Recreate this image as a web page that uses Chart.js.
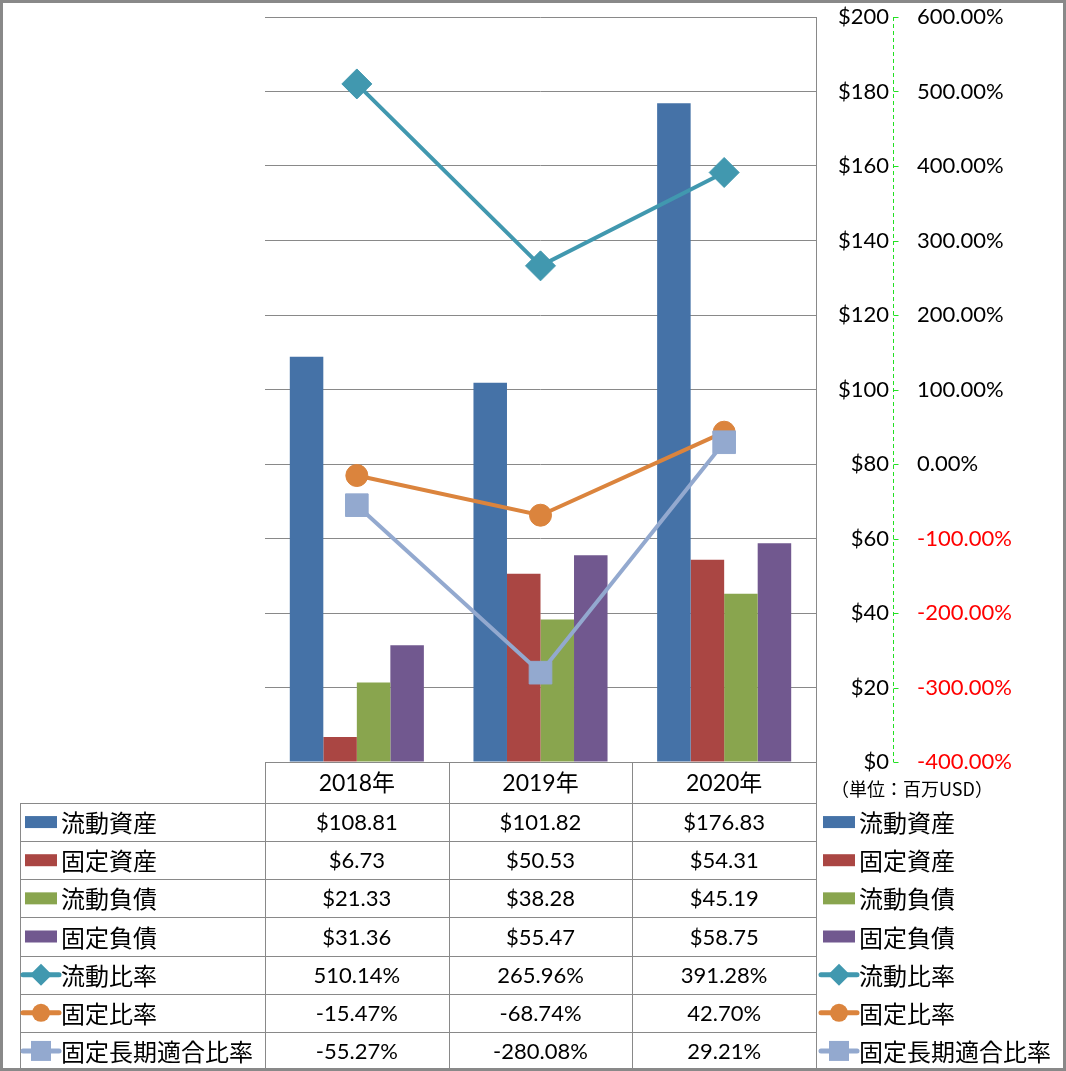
<!DOCTYPE html>
<html>
<head>
<meta charset="utf-8">
<script src="https://cdn.jsdelivr.net/npm/chart.js@4.4.1/dist/chart.umd.min.js"></script>
<style>
  body { margin: 0; background: #fff; }
  canvas { display: block; }
</style>
</head>
<body>
<canvas id="bar-chart" width="1066" height="1071"></canvas>
<script>
// data (百万USD / %)
const kategori = ['2018年', '2019年', '2020年'];
const ryudoShisan = [108.81, 101.82, 176.83];
const koteiShisan = [6.73, 50.53, 54.31];
const ryudoFusai = [21.33, 38.28, 45.19];
const koteiFusai = [31.36, 55.47, 58.75];
const ryudoHiritsu = [510.14, 265.96, 391.28];
const koteiHiritsu = [-15.47, -68.74, 42.70];
const koteiChokiHiritsu = [-55.27, -280.08, 29.21];
const dollarTicks = { min: 0, max: 200, step: 20 };
const persenTicks = { min: -400, max: 600, step: 100 };

const LATIN = "Lato, 'Noto Sans CJK JP', sans-serif";
const CJK = "'Noto Sans CJK JP', sans-serif";
const GRIS = '#898989';
const HIJAU = '#22e022';

const seri = [
    { label: '流動資産', type: 'bar', data: ryudoShisan, color: '#4572A7' },
    { label: '固定資産', type: 'bar', data: koteiShisan, color: '#AA4643' },
    { label: '流動負債', type: 'bar', data: ryudoFusai, color: '#89A54E' },
    { label: '固定負債', type: 'bar', data: koteiFusai, color: '#71588F' },
    { label: '流動比率', type: 'line', data: ryudoHiritsu, color: '#4198AF', point: 'rectRot', radius: 15, order: 3 },
    { label: '固定比率', type: 'line', data: koteiHiritsu, color: '#DB843D', point: 'circle', radius: 11, order: 2 },
    { label: '固定長期適合比率', type: 'line', data: koteiChokiHiritsu, color: '#93A9CF', point: 'rect', radius: 16, order: 1 }
];

const fmtDollar = v => '$' + v.toFixed(2);
const fmtPersen = v => v.toFixed(2) + '%';

function gambarKunci(ctx, s, x1, x2, y) {
    if (s.type === 'bar') {
        ctx.fillStyle = s.color;
        ctx.fillRect(x1 + 2, y - 6, x2 - x1 - 4, 12);
        return;
    }
    ctx.strokeStyle = s.color;
    ctx.lineWidth = 5;
    ctx.lineCap = 'round';
    ctx.beginPath();
    ctx.moveTo(x1, y);
    ctx.lineTo(x2, y);
    ctx.stroke();
    const cx = (x1 + x2) / 2;
    ctx.fillStyle = s.color;
    ctx.beginPath();
    if (s.point === 'rectRot') {
        ctx.moveTo(cx, y - 11); ctx.lineTo(cx + 11, y); ctx.lineTo(cx, y + 11); ctx.lineTo(cx - 11, y);
        ctx.closePath();
    } else if (s.point === 'circle') {
        ctx.arc(cx, y, 9, 0, Math.PI * 2);
    } else {
        ctx.rect(cx - 10, y - 10, 20, 20);
    }
    ctx.fill();
}

const tabelPlugin = {
    id: 'tabel',
    beforeDraw(chart) {
        const ctx = chart.ctx;
        ctx.save();
        ctx.fillStyle = '#fff';
        ctx.fillRect(0, 0, chart.width, chart.height);
        ctx.restore();
    },
    afterDraw(chart) {
        const ctx = chart.ctx;
        const area = chart.chartArea;
        const lebar = (area.right - area.left) / kategori.length;
        const kolom = [0, 1, 2, 3].map(i => area.left + i * lebar);
        const top = area.bottom;
        const headBottom = top + 41;
        const bawah = chart.height - 1;
        const tinggiBaris = (bawah - headBottom) / seri.length;
        const kiri = 20;

        ctx.save();
        // sumbu persen: garis putus-putus hijau + tick pendek
        const y2 = chart.scales.y2;
        const sx = Math.round(y2.left + 4) + 0.5;
        ctx.strokeStyle = HIJAU;
        ctx.lineWidth = 1;
        ctx.setLineDash([4, 3]);
        ctx.beginPath();
        ctx.moveTo(sx, y2.top);
        ctx.lineTo(sx, y2.bottom);
        ctx.stroke();
        ctx.setLineDash([]);
        ctx.beginPath();
        y2.ticks.forEach((t, i) => {
            const py = Math.round(y2.getPixelForTick(i)) + 0.5;
            ctx.moveTo(sx, py);
            ctx.lineTo(sx + 5, py);
        });
        ctx.stroke();

        ctx.strokeStyle = GRIS;
        ctx.lineWidth = 1;
        ctx.beginPath();
        ctx.moveTo(area.left, Math.round(top) + 0.5);
        ctx.lineTo(area.right, Math.round(top) + 0.5);
        for (let i = 0; i <= seri.length; i++) {
            const y = Math.round(headBottom + i * tinggiBaris) + 0.5;
            ctx.moveTo(kiri, y);
            ctx.lineTo(area.right, y);
        }
        kolom.forEach(x => {
            ctx.moveTo(Math.round(x) + 0.5, top);
            ctx.lineTo(Math.round(x) + 0.5, bawah);
        });
        ctx.moveTo(kiri + 0.5, headBottom);
        ctx.lineTo(kiri + 0.5, bawah);
        ctx.stroke();

        // header kategori
        ctx.fillStyle = '#000';
        ctx.textAlign = 'center';
        ctx.textBaseline = 'middle';
        ctx.font = '23px ' + LATIN;
        kategori.forEach((k, i) => {
            ctx.fillText(k, kolom[i] + lebar / 2, (top + headBottom) / 2 + 1);
        });

        // baris data + legenda
        seri.forEach((s, r) => {
            const yc = headBottom + (r + 0.5) * tinggiBaris + 1;
            ctx.font = '22px ' + LATIN;
            ctx.fillStyle = '#000';
            ctx.textAlign = 'center';
            s.data.forEach((v, i) => {
                const teks = s.type === 'bar' ? fmtDollar(v) : fmtPersen(v);
                ctx.fillText(teks, kolom[i] + lebar / 2, yc);
            });
            gambarKunci(ctx, s, 23, 59, yc - 1);
            gambarKunci(ctx, s, 821, 857, yc - 1);
            ctx.font = '24px ' + CJK;
            ctx.fillStyle = '#000';
            ctx.textAlign = 'left';
            ctx.fillText(s.label, 61, yc);
            ctx.fillText(s.label, 859, yc);
        });

        // satuan
        ctx.font = '18px ' + CJK;
        ctx.fillStyle = '#000';
        ctx.textAlign = 'left';
        ctx.fillText('（単位：百万USD）', 831, 789);

        // bingkai luar
        ctx.strokeStyle = GRIS;
        ctx.strokeRect(0.5, 0.5, chart.width - 1, chart.height - 1);
        ctx.restore();
    }
};

const datasets = seri.map(s => {
    if (s.type === 'bar') {
        return {
            type: 'bar', label: s.label, data: s.data, yAxisID: 'y',
            backgroundColor: s.color, borderWidth: 0, order: 4,
            categoryPercentage: 0.73, barPercentage: 1.0
        };
    }
    return {
        type: 'line', label: s.label, data: s.data, yAxisID: 'y2',
        borderColor: s.color, backgroundColor: s.color, borderWidth: 4,
        pointStyle: s.point, pointRadius: s.radius, pointBorderWidth: 1,
        pointBorderColor: s.color, tension: 0, order: s.order
    };
});

const ctx = document.getElementById('bar-chart').getContext('2d');
const myChart = new Chart(ctx, {
    data: { labels: kategori, datasets: datasets },
    plugins: [tabelPlugin],
    options: {
        responsive: false,
        animation: false,
        layout: { padding: { left: 265, top: 15, right: 0, bottom: 309 } },
        plugins: { legend: { display: false }, tooltip: { enabled: false } },
        scales: {
            x: { display: false, offset: true },
            y: {
                position: 'right', weight: 0,
                min: dollarTicks.min, max: dollarTicks.max,
                afterFit: a => { a.width = 73; },
                grid: { color: GRIS, tickLength: 14, tickColor: 'rgba(0,0,0,0)' },
                border: { color: GRIS },
                ticks: {
                    stepSize: dollarTicks.step, padding: 0, crossAlign: 'far',
                    color: '#000', font: { family: LATIN, size: 22 },
                    callback: v => '$' + v
                }
            },
            y2: {
                position: 'right', weight: 1,
                min: persenTicks.min, max: persenTicks.max,
                afterFit: a => { a.width = 177; },
                grid: { drawOnChartArea: false, tickLength: 28, tickColor: 'rgba(0,0,0,0)' },
                border: { display: false },
                ticks: {
                    stepSize: persenTicks.step, padding: 0,
                    color: c => (c.tick && c.tick.value < 0 ? '#FF0000' : '#000'),
                    font: { family: LATIN, size: 22 },
                    callback: v => v.toFixed(2) + '%'
                }
            }
        }
    }
});
</script>
</body>
</html>
